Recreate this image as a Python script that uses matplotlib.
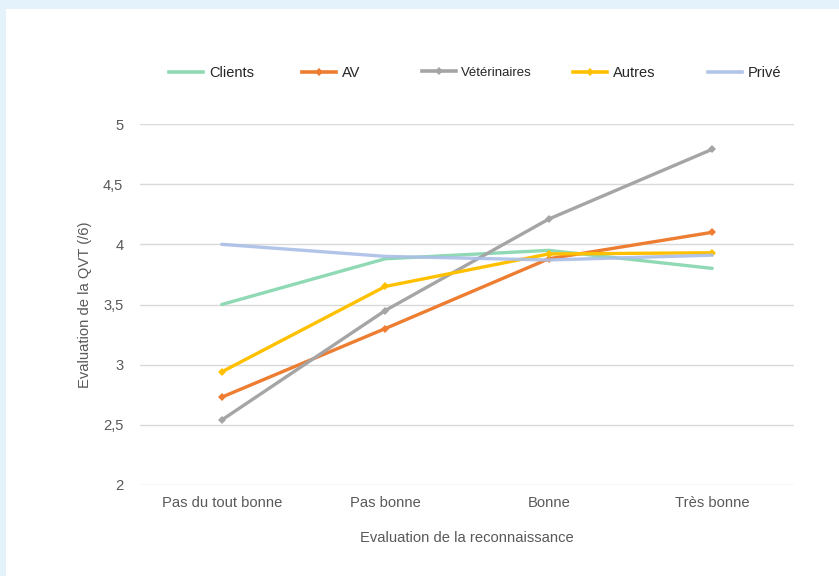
import matplotlib
matplotlib.use("Agg")
import matplotlib.pyplot as plt
from matplotlib.lines import Line2D
from matplotlib.patches import Rectangle

plt.rcParams['font.family'] = ['Liberation Sans', 'DejaVu Sans']

categories = ["Pas du tout bonne", "Pas bonne", "Bonne", "Très bonne"]
series_names = ["Clients", "AV", "Vétérinaires", "Autres", "Privé"]
clients = [3.50, 3.88, 3.95, 3.80]
av = [2.73, 3.30, 3.88, 4.10]
veterinaires = [2.54, 3.45, 4.21, 4.79]
autres = [2.94, 3.65, 3.92, 3.93]
prive = [4.00, 3.90, 3.87, 3.91]
y_ticks = [2, 2.5, 3, 3.5, 4, 4.5, 5]
y_tick_labels = ["2", "2,5", "3", "3,5", "4", "4,5", "5"]

colors = ["#8FD9B5", "#ED7D31", "#A5A5A5", "#FFC000", "#AABFE6"]
markers = [None, "D", "D", "D", None]
alphas = [1, 1, 1, 1, 0.9]
data = [clients, av, veterinaires, autres, prive]

W, H = 839, 576
fig = plt.figure(figsize=(W / 100, H / 100), dpi=100)
fig.patch.set_facecolor("white")
# light blue border top and left
fig.patches.append(Rectangle((0, 1 - 9 / H), 1, 9 / H, transform=fig.transFigure,
                             facecolor="#E3F2FB", edgecolor="none"))
fig.patches.append(Rectangle((0, 0), 6 / W, 1, transform=fig.transFigure,
                             facecolor="#E3F2FB", edgecolor="none"))

ax = fig.add_axes([140 / W, 1 - 485 / H, (794 - 140) / W, (485 - 124) / H])
x = list(range(len(categories)))
text_color = "#595959"

handles = []
for name, vals, c, m, a in zip(series_names, data, colors, markers, alphas):
    ln, = ax.plot(x, vals, color=c, lw=2.4, marker=m, markersize=4,
                  markeredgewidth=0, alpha=a, solid_capstyle="round", label=name)
    handles.append(ln)

ax.set_xlim(-0.5, 3.5)
ax.set_ylim(2, 5)
ax.set_yticks(y_ticks)
ax.set_yticklabels(y_tick_labels)
ax.set_xticks(x)
ax.set_xticklabels(categories)
ax.grid(axis="y", color="#D9D9D9", lw=1)
ax.set_axisbelow(True)
for s in ax.spines.values():
    s.set_visible(False)
ax.tick_params(axis="both", length=0, labelsize=10.6, labelcolor=text_color)
ax.tick_params(axis="y", pad=12)
ax.tick_params(axis="x", pad=8)
ax.set_xlabel("Evaluation de la reconnaissance", fontsize=10.6, color=text_color, labelpad=15)
ax.set_ylabel("Evaluation de la QVT (/6)", fontsize=10.6, color=text_color, labelpad=8)

# legend entries positioned individually
starts = [169, 302, 422, 573, 708]
for h, name, xs in zip(handles, series_names, starts):
    fs = 9.5 if name == "Vétérinaires" else 10.5
    leg = fig.legend([Line2D([0], [0], color=h.get_color(), lw=2.6, marker=h.get_marker(),
                             markersize=4, markeredgewidth=0, alpha=h.get_alpha())],
                     [name], loc="center left", bbox_to_anchor=(xs / W, 1 - 73 / H),
                     frameon=False, borderpad=0, borderaxespad=0,
                     handlelength=34 / (fs * 100 / 72), handletextpad=0.4,
                     prop={"size": fs})
    for t in leg.get_texts():
        t.set_color("#262626")

fig.savefig("out.png", dpi=100, facecolor="white")
